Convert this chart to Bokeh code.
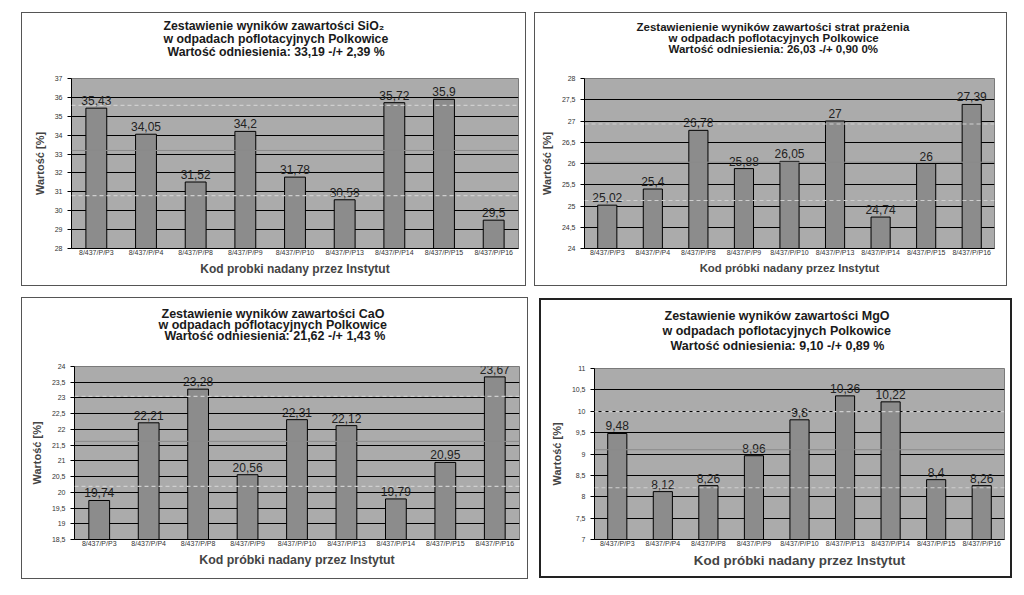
from bokeh.plotting import figure
from bokeh.models import Range1d, FixedTicker, Span, Title
from bokeh.layouts import column, row
from bokeh.embed import file_html
from bokeh.resources import INLINE
from bokeh.core.properties import value

# ---------------- data ----------------
categories = ["8/437/P/P3", "8/437/P/P4", "8/437/P/P8", "8/437/P/P9", "8/437/P/P10",
              "8/437/P/P13", "8/437/P/P14", "8/437/P/P15", "8/437/P/P16"]

sio2_values = [35.43, 34.05, 31.52, 34.2, 31.78, 30.58, 35.72, 35.9, 29.5]
strat_values = [25.02, 25.4, 26.78, 25.88, 26.05, 27, 24.74, 26, 27.39]
cao_values = [19.74, 22.21, 23.28, 20.56, 22.31, 22.12, 19.79, 20.95, 23.67]
mgo_values = [9.48, 8.12, 8.26, 8.96, 9.8, 10.36, 10.22, 8.4, 8.26]

reference_values = [33.19, 26.03, 21.62, 9.10]
uncertainties = [2.39, 0.90, 1.43, 0.89]

sio2_ticks = [28, 29, 30, 31, 32, 33, 34, 35, 36, 37]
strat_ticks = [24, 24.5, 25, 25.5, 26, 26.5, 27, 27.5, 28]
cao_ticks = [18.5, 19, 19.5, 20, 20.5, 21, 21.5, 22, 22.5, 23, 23.5, 24]
mgo_ticks = [7, 7.5, 8, 8.5, 9, 9.5, 10, 10.5, 11]

title_lines = [
    ["Zestawienie wyników zawartości SiO₂", "w odpadach poflotacyjnych Polkowice",
     "Wartość odniesienia: 33,19 -/+ 2,39 %"],
    ["Zestawienienie wyników  zawartości strat prażenia", "w odpadach poflotacyjnych Polkowice",
     "Wartość odniesienia: 26,03 -/+ 0,90 0%"],
    ["Zestawienie wyników zawartości CaO", "w odpadach poflotacyjnych Polkowice",
     "Wartość odniesienia: 21,62 -/+ 1,43 %"],
    ["Zestawienie wyników zawartości MgO", "w odpadach poflotacyjnych Polkowice",
     "Wartość odniesienia: 9,10 -/+ 0,89 %"],
]
x_labels = ["Kod probki nadany przez Instytut", "Kod próbki nadany przez Instytut",
            "Kod próbki nadany przez Instytut", "Kod próbki nadany przez Instytut"]
y_label = "Wartość [%]"

FONT = "Liberation Sans"
EM = 1.117  # approx. line-box height / font size


def fmt(v):
    s = ("%g" % v)
    return s.replace(".", ",")


def add_titles(p, lines, offsets, fsize, spacing, gap):
    """Stack three single-line titles above the frame.
    offsets: left offset of each line from frame left; spacing: line pitch;
    gap: distance from the last line's bottom to the frame top."""
    h = EM * fsize
    s = spacing - 2 - h
    spacer_size = gap - s / 2.0
    p.add_layout(Title(text=" ", text_font_size="2px", text_color="white",
                       standoff=spacer_size - 2 - EM * 2), "above")
    for txt, off in reversed(list(zip(lines, offsets))):
        p.add_layout(Title(text=txt, align="left", offset=off, standoff=s,
                           text_font=FONT, text_font_size="%.1fpx" % fsize,
                           text_font_style="bold", text_color="#1a1a1a"), "above")


def make_panel(vals, ticks, ref, unc, xlab, width, height, borders, xlab_size, border_css):
    left, right, top, bottom = borders
    p = figure(x_range=categories, y_range=Range1d(ticks[0], ticks[-1]),
               width=width, height=height, output_backend="svg",
               toolbar_location=None, min_border_left=left, min_border_right=right,
               min_border_top=top, min_border_bottom=bottom,
               background_fill_color="#ababab", border_fill_color="white",
               outline_line_color="#7a7a7a",
               styles={"border": border_css, "box-sizing": "border-box"})
    p.xgrid.grid_line_color = None
    p.ygrid.grid_line_color = "black"
    p.ygrid.grid_line_width = 1.2
    p.yaxis.ticker = FixedTicker(ticks=ticks)
    p.yaxis.major_label_overrides = {(int(t) if float(t).is_integer() else t): fmt(t)
                                     for t in ticks}
    p.yaxis.major_label_text_font_size = "7px"
    p.yaxis.major_label_text_font = FONT
    p.yaxis.major_label_text_color = "#333333"
    p.yaxis.major_tick_out = 4
    p.yaxis.major_tick_in = 0
    p.yaxis.minor_tick_line_color = None
    p.yaxis.axis_line_color = "black"
    p.yaxis.axis_label = y_label
    p.yaxis.axis_label_text_font = FONT
    p.yaxis.axis_label_text_font_size = "11px"
    p.yaxis.axis_label_text_font_style = "bold"
    p.yaxis.axis_label_standoff = 6
    p.xaxis.axis_label = xlab
    p.xaxis.axis_label_text_font = FONT
    p.xaxis.axis_label_text_font_size = xlab_size
    p.xaxis.axis_label_text_font_style = "bold"
    p.xaxis.axis_label_standoff = 3
    p.xaxis.major_label_text_font_size = "7px"
    p.xaxis.major_label_text_font = FONT
    p.xaxis.major_label_text_color = "#333333"
    p.xaxis.major_tick_line_color = None
    p.xaxis.major_tick_out = 0
    p.xaxis.major_tick_in = 0
    p.xaxis.axis_line_color = "black"
    p.xaxis.major_label_standoff = 0

    p.add_layout(Span(location=ref + unc, dimension="width", line_color="#cfcfcf",
                      line_dash="4 3", line_width=1.2))
    p.add_layout(Span(location=ref - unc, dimension="width", line_color="#cfcfcf",
                      line_dash="4 3", line_width=1.2))
    p.add_layout(Span(location=ref, dimension="width", line_color="#8a8a8a",
                      line_width=1))

    p.vbar(x=categories, top=vals, bottom=ticks[0], width=0.42,
           fill_color="#8c8c8c", line_color="black", line_width=1)
    p.text(x=categories, y=vals, text=[fmt(v) for v in vals], text_align="center",
           text_baseline="bottom", y_offset=-3, text_font=value(FONT),
           text_font_size="12px", text_color="#222222")
    return p


p1 = make_panel(sio2_values, sio2_ticks, reference_values[0], uncertainties[0],
                x_labels[0], 505, 274, (49, 9, 65, 37), "12px", "1px solid #555555")
add_titles(p1, title_lines[0], [92, 92, 96], 12.3, 12.5, 19)

p2 = make_panel(strat_values, strat_ticks, reference_values[1], uncertainties[1],
                x_labels[1], 473, 274, (49, 14, 62, 39), "11.4px", "1px solid #555555")
add_titles(p2, title_lines[1], [52, 84, 84], 11.5, 11.5, 23)

p3 = make_panel(cao_values, cao_ticks, reference_values[2], uncertainties[2],
                x_labels[2], 507, 282, (52, 10, 56, 39), "12.4px", "1px solid #555555")
add_titles(p3, title_lines[2], [87, 84, 90], 12.5, 11, 24)

p4 = make_panel(mgo_values, mgo_ticks, reference_values[3], uncertainties[3],
                x_labels[3], 473, 280, (53, 10, 68, 41), "13.4px", "2px solid #222222")
add_titles(p4, title_lines[3], [70, 68, 76], 12.5, 14.5, 15.5)

p1.margin = (12, 0, 0, 21)
p2.margin = (12, 0, 0, 8)
p3.margin = (11, 0, 0, 21)
p4.margin = (12, 0, 0, 11)

layout = column(row(p1, p2), row(p3, p4))

open("out.html", "w").write(file_html(layout, INLINE))
